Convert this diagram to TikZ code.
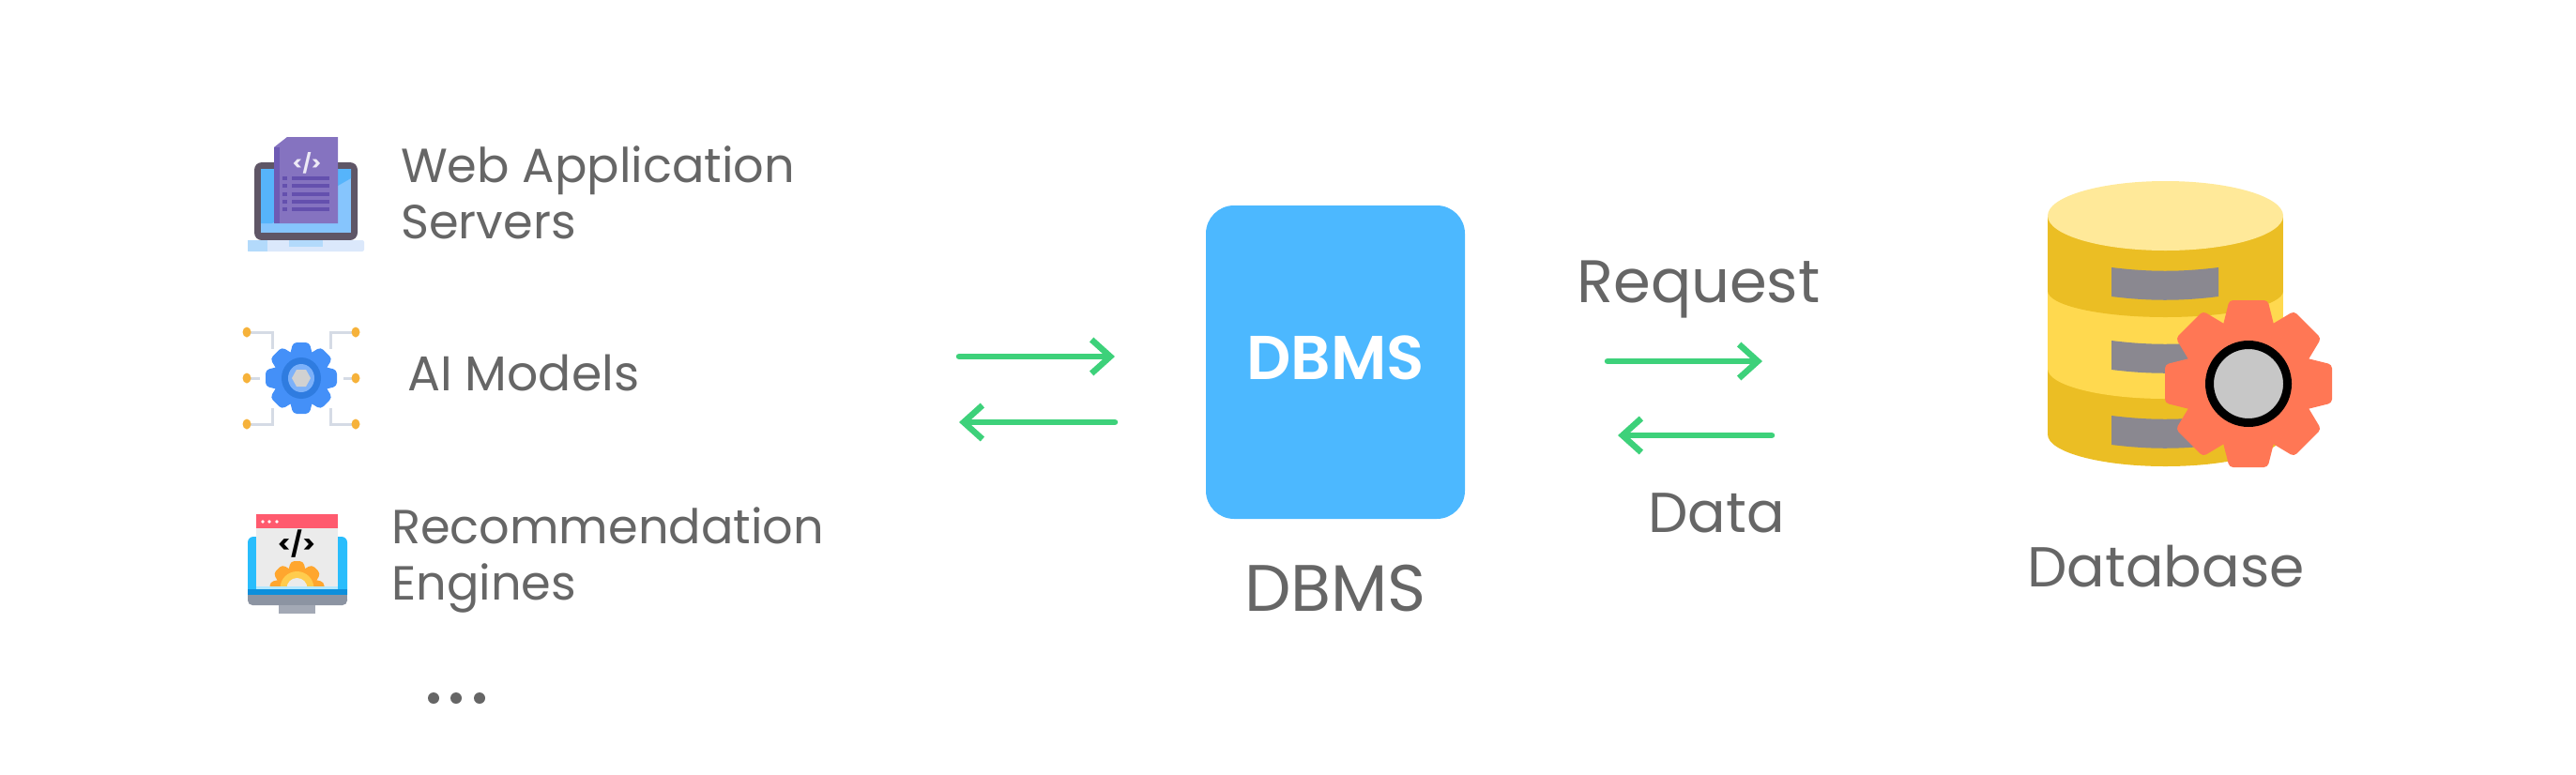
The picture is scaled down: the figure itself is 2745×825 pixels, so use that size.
\documentclass[tikz,border=0pt]{standalone}
\usepackage{fontspec}
\setmainfont{Poppins}
\newfontfamily\boxfont{Poppins SemiBold}
\usetikzlibrary{arrows.meta}
\definecolor{labelgray}{HTML}{666666}
\definecolor{boxblue}{HTML}{4CB8FF}
\definecolor{arrowgreen}{HTML}{3DD17A}
\definecolor{dbdark}{HTML}{EBBE24}
\definecolor{dblight}{HTML}{FFD94F}
\definecolor{dbtop}{HTML}{FFE999}
\definecolor{dbslot}{HTML}{8A8890}
\definecolor{dbcog}{HTML}{FF7755}
\definecolor{lapdark}{HTML}{5F5666}
\definecolor{lapblue}{HTML}{56B4FB}
\definecolor{lapsky}{HTML}{86C5FD}
\definecolor{lapbase}{HTML}{DBE8FB}
\definecolor{lapside}{HTML}{B3DAFB}
\definecolor{docpurple}{HTML}{8573C0}
\definecolor{docdark}{HTML}{6450AE}
\definecolor{aiblue}{HTML}{4490F8}
\definecolor{aidark}{HTML}{2F7CE0}
\definecolor{aidot}{HTML}{F6B23A}
\definecolor{aiwire}{HTML}{D5DBE5}
\definecolor{cogorange}{HTML}{FFA62E}
\definecolor{cogyellow}{HTML}{FFCC4D}
\definecolor{screenblue}{HTML}{29BDFC}
\definecolor{stripblue}{HTML}{0D8FDC}
\definecolor{standgray}{HTML}{8C94A2}
\definecolor{headerred}{HTML}{FF5A6E}
\definecolor{windowgray}{HTML}{EBEBEB}
\tikzset{
	itemlabel/.style={anchor=west, align=left, text=labelgray, inner sep=0pt, font=\fontsize{51}{60}\selectfont},
	partlabel/.style={text=labelgray, inner sep=0pt, font=\fontsize{60}{70}\selectfont},
	flow/.style={draw=arrowgreen, line width=6.5pt, line cap=round, -{Straight Barb[length=20pt,width=36pt,line width=6.5pt]}},
	cog/.pic={
		\fill circle (0.78);
		\foreach \a in {0,45,...,315}
		{\fill[rotate=\a, rounded corners=4pt] (0.6,-0.33) -- (1,-0.23) -- (1,0.23) -- (0.6,0.33) -- cycle;}
	}
}
\begin{document}
\begin{tikzpicture}[x=1pt,y=-1pt]
	\useasboundingbox (0,0) rectangle (2745,825);
	% laptop icon
	\fill[lapdark, rounded corners=8pt] (271,173) rectangle (381,256);
	\fill[lapsky] (278,180) rectangle (374,248);
	\fill[lapblue] (278,180) -- (374,180) -- (374,190) -- (290,238) -- (278,238) -- cycle;
	\fill[docpurple] (292,157) -- (306,146) -- (360,146) -- (360,238) -- (292,238) -- cycle;
	\fill[docdark!70!docpurple] (292,157) rectangle (298,238);
	\foreach \y in {190,198,207,215,223}
	{\fill[docdark] (311,\y-2) rectangle (351,\y+2);
	 \fill[docdark] (301,\y-2) rectangle (306,\y+2);}
	\node[text=white!85!docpurple, inner sep=0pt, font=\fontsize{20}{24}\selectfont\bfseries] (lapcode) at (327,174) {</>};
	\fill[lapbase, rounded corners=2pt] (264,256) rectangle (388,268);
	\fill[lapside] (264,256) rectangle (285,268);
	\fill[lapside] (308,256) rectangle (344,263);
	% ai icon
	\foreach \sx/\ex in {263/290, 379/352}
	{
		\draw[aiwire, line width=3pt] (\sx,354) -- (\ex,354) -- (\ex,372);
		\draw[aiwire, line width=3pt] (\sx,452) -- (\ex,452) -- (\ex,435);
		\draw[aiwire, line width=3pt] (\sx,403) -- ({(\sx+\ex)/2},403);
		\foreach \y in {354,403,452}
		{\fill[aidot] (\sx,\y) ellipse [x radius=4.5pt, y radius=5.5pt];}
	}
	\pic[color=aiblue, scale=38] at (321,403) {cog};
	\fill[aidark] (321,403) ellipse [x radius=21pt, y radius=22pt];
	\fill[aiblue!70!white] (321,403) ellipse [x radius=14pt, y radius=15pt];
	\fill[black!18!white] (331,403) -- (326,412) -- (316,412) -- (311,403) -- (316,394) -- (326,394) -- cycle;
	% engine icon
	\fill[screenblue, rounded corners=6pt] (264,572) rectangle (370,640);
	\fill[stripblue] (264,628) rectangle (370,634);
	\fill[standgray, rounded corners=5pt] (264,634) rectangle (370,645);
	\fill[standgray] (264,634) rectangle (370,640);
	\fill[standgray!80!white] (297,645) rectangle (336,654);
	\fill[windowgray] (273,548) rectangle (360,627);
	\fill[headerred] (273,548) rectangle (360,563);
	\foreach \x in {280,287,295}
	{\fill[white] (\x,556) circle (1.8pt);}
	\node[text=black, inner sep=0pt, font=\fontsize{26}{30}\selectfont\bfseries] (enginecode) at (316,580) {</>};
	\begin{scope}
		\clip (273,548) rectangle (360,627);
		\pic[color=cogorange, scale=29] at (316.5,627) {cog};
		\fill[cogyellow] (316.5,627) circle (18pt);
		\fill[windowgray] (316.5,627) circle (11pt);
	\end{scope}
	\fill[screenblue!35!white] (273,625) rectangle (360,628);
	% list labels
	\node[itemlabel] (webserver) at (427,205) {Web Application\\Servers};
	\node[itemlabel, font=\fontsize{52}{60}\selectfont] (aimodel) at (434,397) {AI Models};
	\node[itemlabel] (engine) at (417,597) {Recommendation\\Engines};
	\foreach \x in {462,486,511}
	{\fill[labelgray] (\x,744) circle (6pt);}
	% dbms box
	\node[fill=boxblue, rounded corners=30pt, minimum width=276pt, minimum height=334pt, inner sep=0pt, text=white, text height=46pt, text depth=10pt, font=\fontsize{66}{70}\boxfont] (dbms) at (1423,386) {DBMS};
	\node[partlabel, font=\fontsize{70}{70}\selectfont] (dbmscap) at (1423,627) {DBMS};
	\node[partlabel, font=\fontsize{64}{70}\selectfont] (request) at (1810,309) {Request};
	\node[partlabel] (data) at (1829,547) {Data};
	\node[partlabel] (database) at (2308,604) {Database};
	% arrows
	\foreach \alph/\sx/\sy/\ex/\ey in {
		in/1022/380/1188/380,
		back/1188/450/1022/450,
		req/1713/385/1878/385,
		ans/1888/464/1724/464
	}{
		\coordinate (\alph a) at (\sx,\sy);
		\coordinate (\alph b) at (\ex,\ey);
		\draw[flow] (\alph a) -- (\alph b);
	}
	% database icon
	\fill[dbdark] (2182,393) rectangle (2433,463);
	\fill[dbdark] (2307.5,463) ellipse [x radius=125.5pt, y radius=34pt];
	\fill[dblight] (2182,310) rectangle (2433,393);
	\fill[dblight] (2307.5,393) ellipse [x radius=125.5pt, y radius=32pt];
	\fill[dbdark] (2182,230) rectangle (2433,310);
	\fill[dbdark] (2307.5,310) ellipse [x radius=125.5pt, y radius=28pt];
	\fill[dbtop] (2307.5,230) ellipse [x radius=125.5pt, y radius=37pt];
	\foreach \y in {285,363,443}
	{\fill[dbslot] (2250,\y) .. controls (2290,\y+5) and (2324,\y+5) .. (2364,\y) -- (2364,\y+31) .. controls (2324,\y+36) and (2290,\y+36) .. (2250,\y+31) -- cycle;}
	\pic[color=dbcog, scale=89] at (2396,409) {cog};
	\draw[line width=9pt, fill=black!22!white] (2396,409) circle (41.5pt);
\end{tikzpicture}
\end{document}
